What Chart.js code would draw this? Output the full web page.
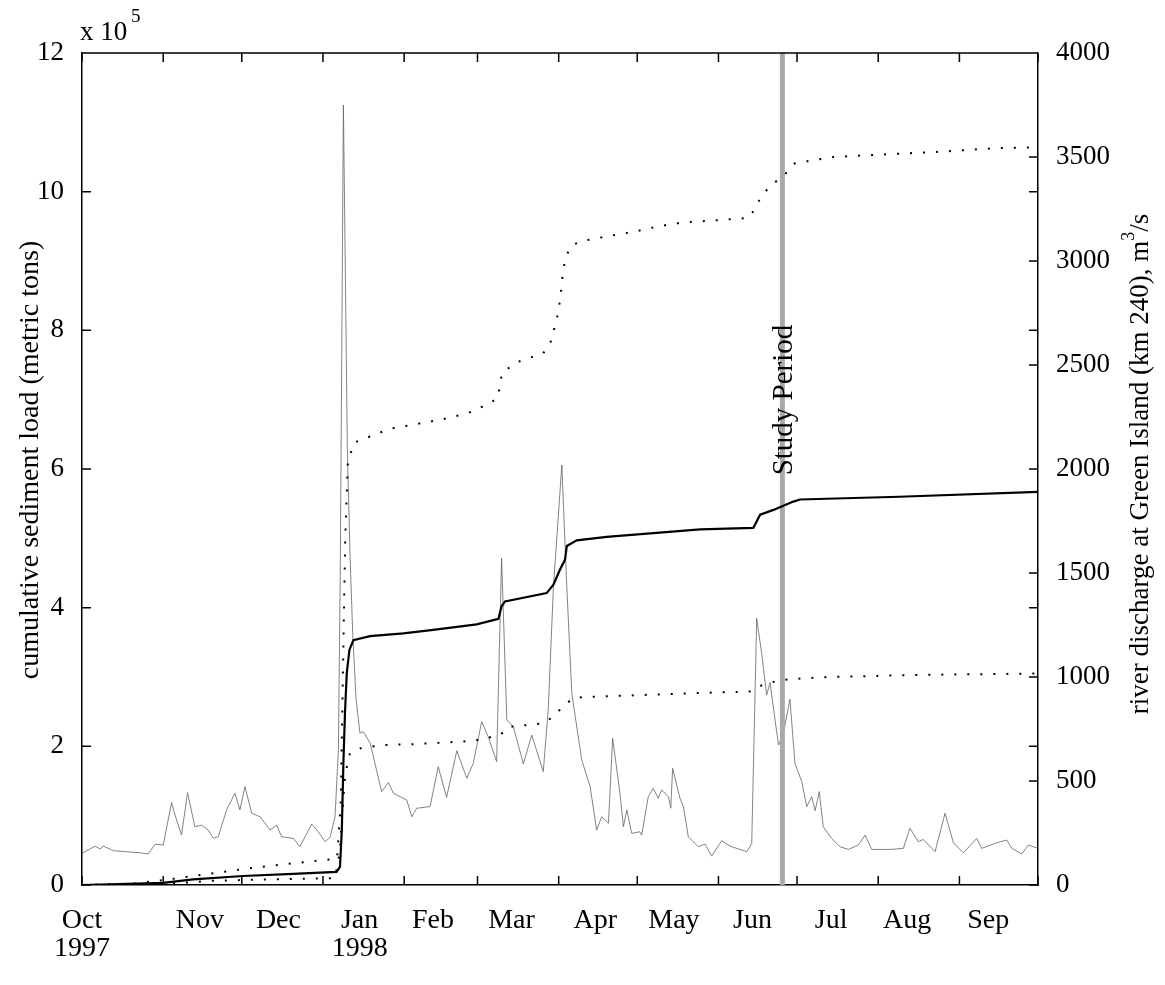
<!DOCTYPE html>
<html>
<head>
<meta charset="utf-8">
<script src="https://cdn.jsdelivr.net/npm/chart.js@4"></script>
<style>
  body { margin: 0; background: #fff; }
</style>
</head>
<body>
<canvas id="myChart" width="1165" height="985"></canvas>
<script>
'use strict';

// days since 1 Oct 1997
let monthStarts = [0, 31, 61, 92, 123, 151, 182, 212, 243, 273, 304, 335, 365];
let monthLabelDays = [0, 45, 75, 106, 134, 164, 196, 226, 256, 286, 315, 346];
let monthLabels = [['Oct', '1997'], 'Nov', 'Dec', ['Jan', '1998'], 'Feb', 'Mar', 'Apr', 'May', 'Jun', 'Jul', 'Aug', 'Sep'];
let loadTicks = [0, 2, 4, 6, 8, 10, 12];
let dischargeTicks = [0, 500, 1000, 1500, 2000, 2500, 3000, 3500, 4000];
let studyPeriodDay = 267.4;

// river discharge, m3/s  [day, value]
let discharge = [[0,152],[5,187],[6.9,173],[8.1,187],[12,165],[17,160],[22,155],[25.3,149],[27.9,196],[31,192],
  [34.2,396],[35.5,337],[38,240],[40.3,444],[43.1,280],[45.7,288],[48.2,264],[50.1,225],[52,232],[55.2,361],
  [58.4,441],[60.3,361],[62.2,473],[64.8,345],[68,328],[71.8,264],[74.3,288],[76.2,232],[80.7,224],[83.2,184],
  [87.7,293],[90.2,256],[92.8,208],[94.7,229],[96.6,328],[97.9,649],[98.6,1500],[99.2,2600],[99.8,3750],[100.5,3000],
  [101.3,2100],[102.3,1600],[103.3,1230],[104.6,900],[106.1,731],[107.4,737],[110,683],[114.4,449],[117,492],[118.9,441],
  [121.4,425],[124,409],[125.9,328],[127.8,369],[132.9,377],[136,569],[139.2,421],[143.1,646],[146.9,513],[149.4,585],
  [152.6,785],[155.1,713],[158.3,593],[160.2,1571],[162.2,793],[164.7,761],[168.5,582],[171.7,721],[176.1,545],[178,841],
  [180,1434],[183.2,2019],[185.1,1434],[187,922],[190.8,601],[194,473],[196.5,264],[198.4,328],[201,297],[202.6,705],
  [205.4,441],[206.7,280],[208,361],[209.9,248],[213,256],[213.7,240],[216.2,425],[218.1,465],[220,417],[221.3,457],
  [223.9,425],[224.8,369],[225.5,561],[228.3,417],[229.6,377],[231.5,232],[235.3,184],[237.9,197],[240.4,139],[244.2,213],
  [247.4,187],[251.2,171],[253.8,160],[255.7,200],[257.6,1282],[259.5,1114],[261.4,913],[262.7,973],[265.9,673],[267.8,729],
  [270.3,893],[272.2,585],[274.8,497],[276.7,377],[278.6,425],[279.9,357],[281.5,449],[283,280],[286.2,224],[289.4,184],
  [292.6,171],[296.4,192],[299,240],[301.5,171],[308.5,171],[313.6,176],[316.1,273],[319.3,208],[321.2,219],[325.7,160],
  [329.5,345],[332.7,203],[336.5,155],[341.6,224],[343.5,176],[349.2,203],[353.1,216],[355,176],[358.8,149],[361.3,192],[365,176]];

// cumulative sediment load, x 10^5 metric tons  [day, value]
let loadEstimate = [[0,0],[20.9,0.02],[31,0.03],[42.4,0.08],[61.5,0.13],[80.6,0.16],[97.2,0.19],[98.5,0.26],[99.2,0.79],
  [99.8,1.76],[100.4,2.48],[101.1,3.06],[102.1,3.39],[103.6,3.53],[110,3.59],[122.7,3.63],[134.1,3.68],[150.7,3.76],
  [159,3.84],[160.2,4.02],[161.5,4.09],[177.4,4.21],[180,4.33],[182.5,4.55],[184.4,4.69],[185.1,4.89],[188.9,4.97],
  [200.3,5.02],[236,5.13],[256.3,5.15],[258.9,5.34],[264,5.41],[271.6,5.53],[274.1,5.56],[312,5.6],[365,5.67]];

let loadUpper = [[0,0],[20,0.02],[35,0.09],[61.5,0.23],[80,0.31],[97.4,0.38],[98.8,1.2],[99.6,3.0],[100.5,5.0],[101.5,6.1],
  [103.9,6.38],[117.6,6.58],[136.7,6.71],[147,6.8],[155.8,6.95],[158.8,7.03],[160.4,7.39],[166,7.54],[176.1,7.67],
  [178.7,7.8],[180,7.98],[181.3,8.16],[182.1,8.33],[182.8,8.52],[183.2,8.7],[183.8,8.88],[184.7,9.06],[187,9.23],
  [191.4,9.29],[201,9.36],[210.5,9.42],[220,9.5],[230.2,9.56],[239.8,9.58],[250,9.61],[254.4,9.62],[257,9.75],
  [259,9.91],[262,10.05],[265.7,10.17],[269.2,10.28],[272.2,10.41],[277,10.44],[287,10.5],[302,10.53],[325,10.57],
  [350,10.63],[365,10.64]];

let loadLower = [[0,0],[30,0.01],[49.5,0.06],[70,0.08],[96.6,0.1],[98.5,0.5],[99.5,1.1],[100.5,1.6],[102.3,1.9],
  [106.1,1.97],[111.2,2.0],[116.3,2.02],[125.9,2.03],[145.6,2.07],[150.7,2.09],[159.6,2.16],[162.8,2.28],[176.1,2.33],
  [180,2.43],[183.5,2.57],[187.3,2.69],[191.4,2.71],[236,2.77],[255,2.79],[259.5,2.88],[264,2.93],[270.3,2.97],
  [285.6,3.0],[318.7,3.03],[365,3.05]];

function toPoints(arr) {
  return arr.map(p => ({x: p[0], y: p[1]}));
}

let serif = '"Liberation Serif", "DejaVu Serif", serif';
let tickFont = {family: serif, size: 27};
let monthFont = {family: serif, size: 28, lineHeight: 1.0};

function font(px) {
  return px + 'px ' + serif;
}

// ticks pointing into the plot, box on top, and the free texts
let matlabLook = {
  id: 'matlabLook',
  afterDraw(chart) {
    let ctx = chart.ctx;
    let a = chart.chartArea;
    let x = chart.scales.x, y = chart.scales.y, y2 = chart.scales.y2;
    let len = 9;
    ctx.save();
    ctx.strokeStyle = '#000';
    ctx.lineWidth = 1.5;
    ctx.beginPath();
    ctx.moveTo(a.left, a.top);
    ctx.lineTo(a.right, a.top);
    monthStarts.forEach(d => {
      let px = x.getPixelForValue(d);
      ctx.moveTo(px, a.bottom); ctx.lineTo(px, a.bottom - len);
      ctx.moveTo(px, a.top); ctx.lineTo(px, a.top + len);
    });
    loadTicks.forEach(v => {
      let py = y.getPixelForValue(v);
      ctx.moveTo(a.left, py); ctx.lineTo(a.left + len, py);
      ctx.moveTo(a.right, py); ctx.lineTo(a.right - len, py);
    });
    dischargeTicks.forEach(v => {
      let py = y2.getPixelForValue(v);
      ctx.moveTo(a.right, py); ctx.lineTo(a.right - len, py);
    });
    ctx.stroke();

    ctx.fillStyle = '#000';
    ctx.font = font(27);
    ctx.textBaseline = 'alphabetic';
    ctx.textAlign = 'left';
    ctx.fillText('x 10', 80, 40);
    ctx.font = font(19);
    ctx.fillText('5', 131, 22);

    ctx.textAlign = 'center';
    ctx.textBaseline = 'middle';

    ctx.save();
    ctx.font = font(28);
    ctx.translate(31, 460);
    ctx.rotate(-Math.PI / 2);
    ctx.fillText('cumulative sediment load (metric tons)', 0, 0);
    ctx.restore();

    ctx.save();
    ctx.translate(1141, 464);
    ctx.rotate(-Math.PI / 2);
    ctx.font = font(27);
    let t1 = 'river discharge at Green Island (km 240), m';
    let w1 = ctx.measureText(t1).width;
    let w2 = ctx.measureText('/s').width;
    ctx.font = font(18);
    let w3 = ctx.measureText('3').width;
    let start = -(w1 + w2 + w3) / 2;
    ctx.textAlign = 'left';
    ctx.fillText('3', start + w1, -12);
    ctx.font = font(27);
    ctx.fillText(t1, start, 0);
    ctx.fillText('/s', start + w1 + w3, 0);
    ctx.restore();

    ctx.save();
    ctx.font = font(29);
    ctx.translate(x.getPixelForValue(studyPeriodDay) + 2, 400);
    ctx.rotate(-Math.PI / 2);
    ctx.textAlign = 'center';
    ctx.fillText('Study Period', 0, 0);
    ctx.restore();

    ctx.restore();
  }
};

let chartObject = {
  type: 'line',
  data: {
    datasets: [
      {
        label: 'cumulative load',
        data: toPoints(loadEstimate),
        yAxisID: 'y',
        borderColor: '#000',
        borderWidth: 2.2,
        pointRadius: 0
      },
      {
        label: 'upper bound',
        data: toPoints(loadUpper),
        yAxisID: 'y',
        borderColor: '#000',
        borderWidth: 2,
        borderDash: [2, 11],
        pointRadius: 0
      },
      {
        label: 'lower bound',
        data: toPoints(loadLower),
        yAxisID: 'y',
        borderColor: '#000',
        borderWidth: 2,
        borderDash: [2, 11],
        pointRadius: 0
      },
      {
        label: 'study period',
        data: [{x: studyPeriodDay, y: 0}, {x: studyPeriodDay, y: 12}],
        yAxisID: 'y',
        borderColor: '#a9a9a9',
        borderWidth: 5,
        pointRadius: 0
      },
      {
        label: 'river discharge',
        data: toPoints(discharge),
        yAxisID: 'y2',
        borderColor: 'rgba(100,100,100,0.8)',
        borderWidth: 1,
        pointRadius: 0
      }
    ]
  },
  plugins: [matlabLook],
  options: {
    responsive: false,
    animation: false,
    layout: {padding: {top: 53, left: 0, right: 0, bottom: 0}},
    plugins: {
      legend: {display: false},
      tooltip: {enabled: false}
    },
    scales: {
      x: {
        type: 'linear',
        position: 'bottom',
        min: 0,
        max: 365,
        grid: {display: false},
        border: {display: true, color: '#000', width: 1.5},
        afterBuildTicks: scale => { scale.ticks = monthLabelDays.map(v => ({value: v})); },
        afterFit: scale => { scale.height = 100; },
        ticks: {
          autoSkip: false,
          maxRotation: 0,
          padding: 14,
          color: '#000',
          font: monthFont,
          callback: (value, index) => monthLabels[index]
        }
      },
      y: {
        position: 'left',
        min: 0,
        max: 12,
        grid: {display: false},
        border: {display: true, color: '#000', width: 1.5},
        afterBuildTicks: scale => { scale.ticks = loadTicks.map(v => ({value: v})); },
        afterFit: scale => { scale.width = 82; },
        ticks: {padding: 10, color: '#000', font: tickFont, callback: value => String(value)}
      },
      y2: {
        position: 'right',
        min: 0,
        max: 4000,
        grid: {display: false},
        border: {display: true, color: '#000', width: 1.5},
        afterBuildTicks: scale => { scale.ticks = dischargeTicks.map(v => ({value: v})); },
        afterFit: scale => { scale.width = 127; },
        ticks: {padding: 10, color: '#000', font: tickFont, callback: value => String(value)}
      }
    }
  }
};

let ctx = document.getElementById('myChart').getContext('2d');
let myChart = new Chart(ctx, chartObject);
</script>
</body>
</html>
